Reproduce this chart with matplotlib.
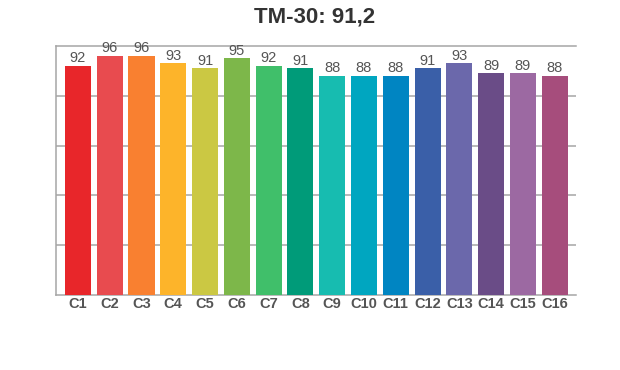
import matplotlib.pyplot as plt
import numpy as np

plt.rcParams["font.family"] = ["Liberation Sans", "DejaVu Sans"]

# data
labels = ["C1", "C2", "C3", "C4", "C5", "C6", "C7", "C8",
          "C9", "C10", "C11", "C12", "C13", "C14", "C15", "C16"]
values = [92, 96, 96, 93, 91, 95, 92, 91, 88, 88, 88, 91, 93, 89, 89, 88]
colors = ["#e8262a", "#e84b4f", "#f98030", "#fdb42a", "#cbc843", "#7db74a",
          "#40bf6a", "#009b79", "#17bcb0", "#00a6c0", "#0085c2", "#3a5fa8",
          "#6b68ab", "#6a4c87", "#9c69a2", "#a64d7c"]
title = "TM-30: 91,2"

grid_col = "#a6a6a6"
text_col = "#555555"

fig = plt.figure(figsize=(6.2, 3.7), dpi=100)
ax = fig.add_axes([0.0898, 0.2027, 0.929 - 0.0898, 0.8757 - 0.2027])

xs = np.arange(len(labels))
bars = ax.bar(xs, values, width=0.82, color=colors, zorder=3)

for x, v in zip(xs, values):
    ax.text(x, v + 0.2, str(v), ha="center", va="bottom",
            fontsize=10.5, color=text_col, zorder=4)

ax.set_ylim(0, 100)
ax.set_xlim(-0.7, 15.67)
ax.set_yticks([20, 40, 60, 80])
ax.set_yticklabels([])
ax.tick_params(axis="y", length=0)
ax.yaxis.grid(True, color=grid_col, linewidth=1.1, zorder=0)

ax.set_xticks(xs)
ax.set_xticklabels(labels, fontsize=10.5, fontweight="bold", color=text_col)
ax.tick_params(axis="x", length=0, pad=1.5)

ax.spines["right"].set_visible(False)
for s in ["left", "bottom", "top"]:
    ax.spines[s].set_color(grid_col)
    ax.spines[s].set_linewidth(1.1)

fig.text(0.508, 0.954, title, ha="center", va="center",
         fontsize=16, fontweight="bold", color="#333333")

fig.savefig("out.png", dpi=100)
